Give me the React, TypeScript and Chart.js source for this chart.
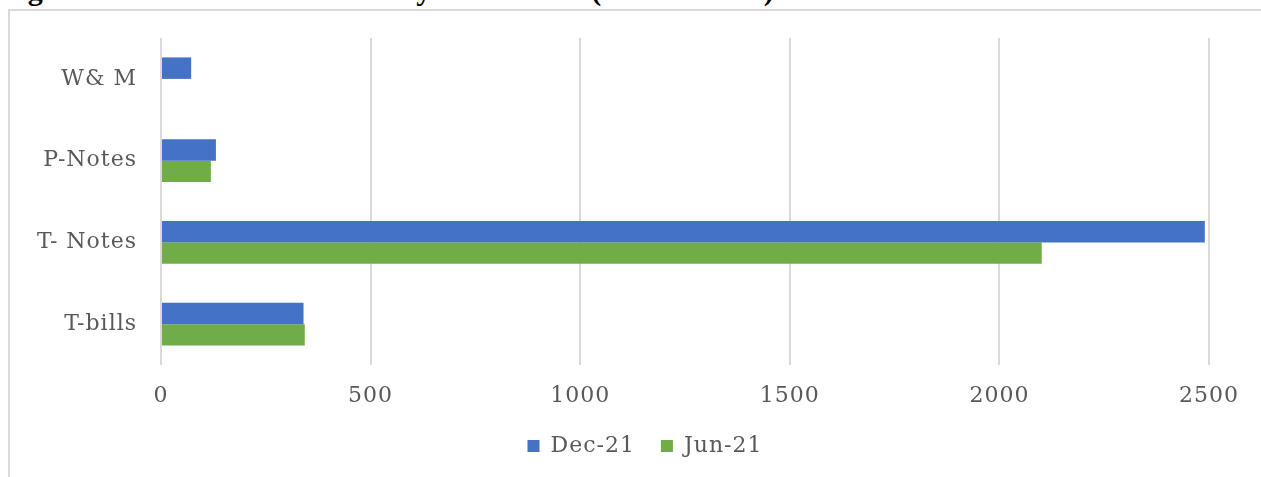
import React, { useEffect, useRef } from "react";
import { Chart, registerables } from "chart.js";

Chart.register(...registerables);

const categories = ["W& M", "P-Notes", "T- Notes", "T-bills"];
const dec21: (number | null)[] = [72, 131, 2490, 340];
const jun21: (number | null)[] = [null, 119, 2101, 343];
const seriesNames = ["Dec-21", "Jun-21"];
const seriesColors = ["#4472C4", "#70AD47"];
const xMin = 0;
const xMax = 2500;
const xStep = 500;
const titleText = "Figure 4: Domestic Debt Stock by Instrument (Rs. in billion)";

const TEXT = "#595959";
const FONT = "'DejaVu Serif', 'Liberation Serif', serif";

const spacingPlugin = {
  id: "letterSpacingPlugin",
  beforeUpdate(chart: any) {
    chart.ctx.letterSpacing = "1px";
  },
  afterLayout(chart: any) {
    if (chart.legend) chart.legend.left = 81;
  },
  beforeDraw(chart: any) {
    chart.ctx.letterSpacing = "1px";
  },
};

export default function App() {
  const ref = useRef<HTMLCanvasElement>(null);

  useEffect(() => {
    if (!ref.current) return;
    const chart = new Chart(ref.current, {
      type: "bar",
      data: {
        labels: categories,
        datasets: [
          {
            label: seriesNames[0],
            data: dec21,
            backgroundColor: seriesColors[0],
            borderWidth: 0,
            categoryPercentage: 0.525,
            barPercentage: 1.0,
          },
          {
            label: seriesNames[1],
            data: jun21,
            backgroundColor: seriesColors[1],
            borderWidth: 0,
            categoryPercentage: 0.525,
            barPercentage: 1.0,
          },
        ],
      },
      plugins: [spacingPlugin],
      options: {
        indexAxis: "y",
        animation: false,
        responsive: false,
        maintainAspectRatio: false,
        devicePixelRatio: 1,
        layout: { padding: { top: 38, right: 52, left: 0, bottom: 33 } },
        scales: {
          x: {
            min: xMin,
            max: xMax,
            ticks: {
              stepSize: xStep,
              padding: 18,
              color: TEXT,
              font: { family: FONT, size: 22 },
              callback: (v: any) => String(v),
            },
            grid: { color: "#d9d9d9", lineWidth: 2, drawTicks: false },
            border: { display: false },
            afterFit: (s: any) => {
              s.height = 44;
            },
          },
          y: {
            ticks: {
              padding: 24,
              color: TEXT,
              font: { family: FONT, size: 22 },
            },
            grid: { display: false, drawTicks: false },
            border: { display: false },
            afterFit: (s: any) => {
              s.width = 161;
            },
          },
        },
        plugins: {
          legend: {
            position: "bottom",
            labels: {
              boxWidth: 12,
              boxHeight: 12,
              padding: 26,
              color: TEXT,
              font: { family: FONT, size: 22 },
            },
          },
          tooltip: { enabled: false },
        },
      },
    });
    return () => chart.destroy();
  }, []);

  return (
    <div
      style={{
        position: "fixed",
        left: 0,
        top: 0,
        width: 1261,
        height: 477,
        overflow: "hidden",
        background: "#ffffff",
      }}
    >
      <div
        style={{
          position: "absolute",
          left: 1,
          top: -25,
          fontFamily: "'Liberation Serif'",
          fontWeight: 700,
          fontSize: 30,
          lineHeight: "30px",
          whiteSpace: "nowrap",
          color: "#000000",
        }}
      >
        {titleText}
      </div>
      <div
        style={{
          position: "absolute",
          left: 8,
          top: 9,
          width: 1400,
          height: 600,
          borderTop: "2px solid #d9d9d9",
          borderLeft: "2px solid #d9d9d9",
        }}
      />
      <canvas
        ref={ref}
        width={1261}
        height={500}
        style={{ position: "absolute", left: 0, top: 0, width: 1261, height: 500 }}
      />
    </div>
  );
}
